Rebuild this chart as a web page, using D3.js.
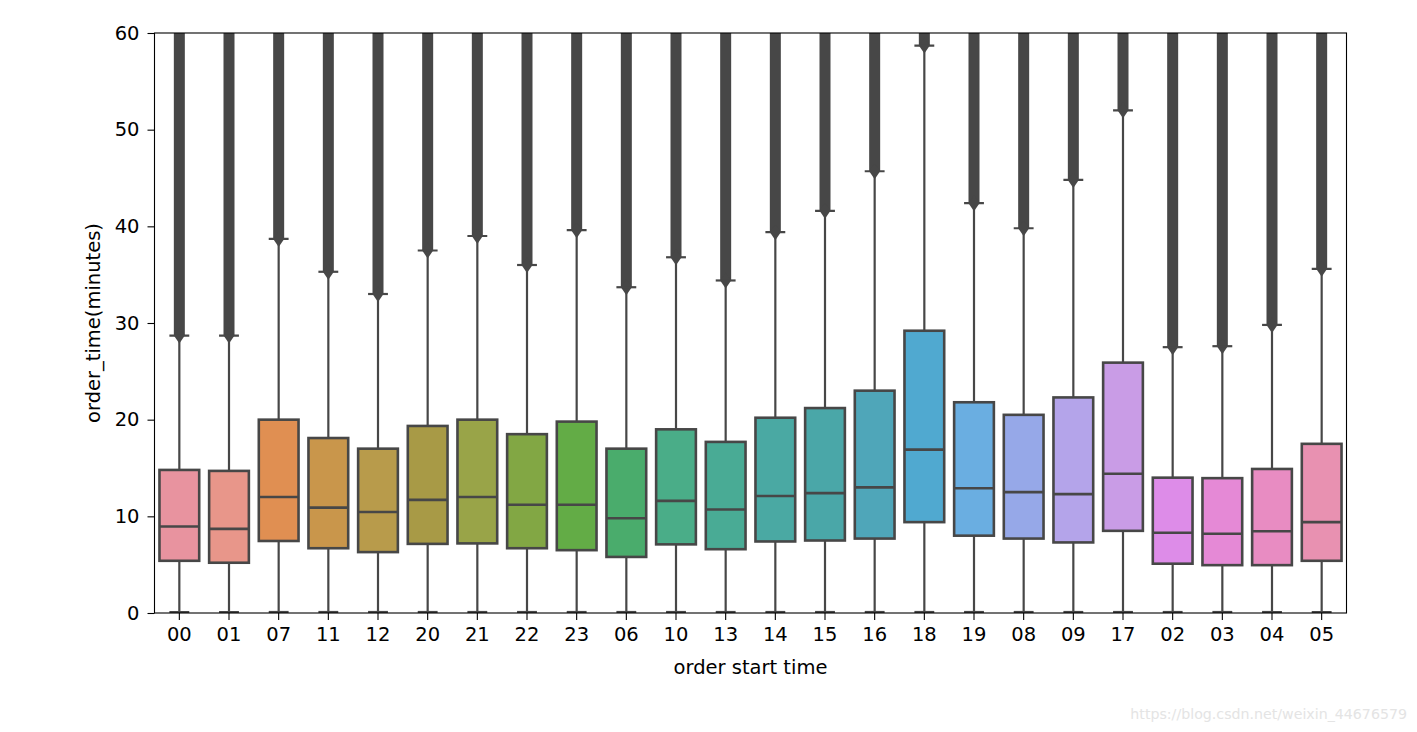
<!DOCTYPE html>
<html>
<head>
<meta charset="utf-8">
<script src="https://cdn.jsdelivr.net/npm/d3@7/dist/d3.min.js"></script>
<style>
  html, body { margin: 0; padding: 0; background: #ffffff; }
  svg { display: block; }
  text { font-family: "DejaVu Sans", sans-serif; fill: #000; }
</style>
</head>
<body>
<svg id="chart" width="1417" height="732"></svg>
<script>
// ---- data ----
const categories = ["00","01","07","11","12","20","21","22","23","06","10","13","14","15","16","18","19","08","09","17","02","03","04","05"];
const whiskerLow = [0,0,0,0,0,0,0,0,0,0,0,0,0,0,0,0,0,0,0,0,0,0,0,0];
const q1Values     = [5.4,5.2,7.45,6.7,6.3,7.15,7.2,6.7,6.5,5.8,7.1,6.6,7.4,7.5,7.7,9.4,8.0,7.7,7.3,8.5,5.1,4.95,4.95,5.4];
const medianValues = [8.95,8.7,12.0,10.9,10.45,11.7,12.0,11.2,11.2,9.8,11.6,10.7,12.1,12.4,13.0,16.9,12.9,12.5,12.3,14.4,8.3,8.2,8.45,9.4];
const q3Values     = [14.8,14.7,20.0,18.1,17.0,19.35,20.0,18.5,19.8,17.0,19.0,17.7,20.2,21.2,23.0,29.2,21.8,20.5,22.3,25.9,14.0,13.95,14.9,17.5];
const whiskerHigh  = [28.7,28.7,38.7,35.3,33.0,37.5,39.0,36.0,39.6,33.7,36.8,34.4,39.4,41.6,45.7,58.7,42.4,39.8,44.8,52.0,27.5,27.6,29.8,35.6];
// outliers extend densely from just above the upper whisker past the top of the axis
const outlierMax   = [60,60,60,60,60,60,60,60,60,60,60,60,60,60,60,60,60,60,60,60,60,60,60,60];
const boxColors = ["#e8939f","#e8968a","#e08f52","#c9964b","#b89b4b","#a89a46","#99a448","#82a744","#63ac46","#4aac6c","#4aad88","#49ab95","#4aa9a3","#4aa7a8","#4fa6b9","#50a9d0","#6aaee1","#96a8e8","#b4a4ea","#c99ce6","#dd8ce8","#e589d6","#e88cc2","#e891b1"];
const yTicks = [0,10,20,30,40,50,60];
const xLabel = "order start time";
const yLabel = "order_time(minutes)";
const watermark = "https://blog.csdn.net/weixin_44676579";

// ---- layout ----
const svg = d3.select("#chart");
const plotL = 154.5, plotR = 1346.5, plotT = 33, plotB = 613;
const edge = "#474747";

const x = d3.scaleBand().domain(categories).range([plotL, plotR]).paddingInner(0).paddingOuter(0);
const y = d3.scaleLinear().domain([0, 60]).range([plotB, plotT]);

const boxW = x.bandwidth() * 0.8;
const capW = boxW * 0.5;

svg.append("defs").append("clipPath").attr("id", "plotclip")
  .append("rect").attr("x", plotL).attr("y", plotT).attr("width", plotR - plotL).attr("height", plotB - plotT);

const data = categories.map((c, i) => ({
  c, lo: whiskerLow[i], q1: q1Values[i], med: medianValues[i], q3: q3Values[i],
  hi: whiskerHigh[i], omax: outlierMax[i], color: boxColors[i]
}));

const g = svg.append("g").attr("clip-path", "url(#plotclip)");

const grp = g.selectAll("g.box").data(data).enter().append("g").attr("class", "box");
const cx = d => x(d.c) + x.bandwidth() / 2;

// whiskers
grp.append("line")
  .attr("x1", cx).attr("x2", cx)
  .attr("y1", d => y(d.q3)).attr("y2", d => y(d.hi))
  .attr("stroke", edge).attr("stroke-width", 2.2);
grp.append("line")
  .attr("x1", cx).attr("x2", cx)
  .attr("y1", d => y(d.q1)).attr("y2", d => y(d.lo))
  .attr("stroke", edge).attr("stroke-width", 2.2);

// outliers: dense thin-diamond markers forming a solid column
grp.append("rect")
  .attr("x", d => cx(d) - 5.5)
  .attr("y", d => y(d.omax) - 10)
  .attr("width", 11)
  .attr("height", d => y(d.hi) - y(d.omax) + 10)
  .attr("fill", edge);
grp.append("path")
  .attr("d", d => {
    const px = cx(d), py = y(d.hi);
    return `M${px},${py - 8} L${px + 5.5},${py} L${px},${py + 8} L${px - 5.5},${py} Z`;
  })
  .attr("fill", edge);

// caps
grp.append("line")
  .attr("x1", d => cx(d) - capW / 2).attr("x2", d => cx(d) + capW / 2)
  .attr("y1", d => y(d.hi)).attr("y2", d => y(d.hi))
  .attr("stroke", edge).attr("stroke-width", 2.2);
grp.append("line")
  .attr("x1", d => cx(d) - capW / 2).attr("x2", d => cx(d) + capW / 2)
  .attr("y1", d => y(d.lo) - 1).attr("y2", d => y(d.lo) - 1)
  .attr("stroke", edge).attr("stroke-width", 2.2);

// boxes
grp.append("rect")
  .attr("x", d => cx(d) - boxW / 2)
  .attr("y", d => y(d.q3))
  .attr("width", boxW)
  .attr("height", d => y(d.q1) - y(d.q3))
  .attr("fill", d => d.color)
  .attr("stroke", edge).attr("stroke-width", 2.6);
// medians
grp.append("line")
  .attr("x1", d => cx(d) - boxW / 2).attr("x2", d => cx(d) + boxW / 2)
  .attr("y1", d => y(d.med)).attr("y2", d => y(d.med))
  .attr("stroke", edge).attr("stroke-width", 2.6);

// ---- axes ----
const yAxis = d3.axisLeft(y).tickValues(yTicks).tickSize(7).tickPadding(8).tickFormat(d3.format("d"));
const yg = svg.append("g").attr("transform", `translate(${plotL},0)`).call(yAxis);
yg.select(".domain").remove();
yg.selectAll("line").attr("stroke", "#000").attr("stroke-width", 1.1);
yg.selectAll("text").attr("font-size", 19.5).attr("font-family", "DejaVu Sans").attr("fill", "#000");

const xAxis = d3.axisBottom(x).tickSize(7).tickPadding(7);
const xg = svg.append("g").attr("transform", `translate(0,${plotB})`).call(xAxis);
xg.select(".domain").remove();
xg.selectAll("line").attr("stroke", "#000").attr("stroke-width", 1.1);
xg.selectAll("text").attr("font-size", 19.5).attr("font-family", "DejaVu Sans").attr("fill", "#000");

// spines
svg.append("rect")
  .attr("x", plotL).attr("y", plotT).attr("width", plotR - plotL).attr("height", plotB - plotT)
  .attr("fill", "none").attr("stroke", "#000").attr("stroke-width", 1.1);

// labels
svg.append("text").attr("x", (plotL + plotR) / 2).attr("y", 674)
  .attr("text-anchor", "middle").attr("font-size", 19.5).text(xLabel);
svg.append("text").attr("transform", `translate(100,${(plotT + plotB) / 2}) rotate(-90)`)
  .attr("text-anchor", "middle").attr("font-size", 19.5).text(yLabel);

// watermark
svg.append("text").attr("x", 1407).attr("y", 719).attr("text-anchor", "end")
  .attr("font-family", "Liberation Sans, Arial, sans-serif").attr("font-size", 14.2)
  .style("fill", "#e4e4e4").text(watermark);
</script>
</body>
</html>
